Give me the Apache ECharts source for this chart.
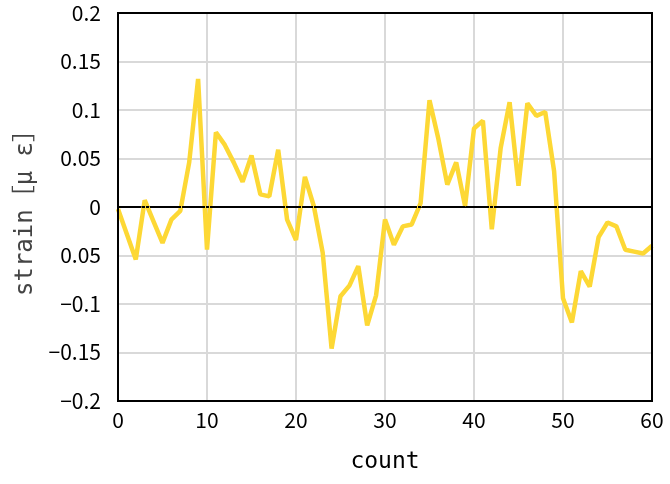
<!DOCTYPE html>
<html>
<head>
<meta charset="utf-8">
<script src="https://cdn.jsdelivr.net/npm/echarts@6/dist/echarts.min.js"></script>
<style>html,body{margin:0;padding:0;background:#fff}#c{width:670px;height:484px}</style>
</head>
<body>
<div id="c"></div>
<script>
var counts = [];
for (var k = 0; k <= 60; k++) counts.push(k);
var strain = [-0.002,-0.028,-0.054,0.007,-0.015,-0.037,-0.013,-0.004,0.046,0.132,
  -0.044,0.077,0.064,0.046,0.026,0.053,0.013,0.011,0.059,-0.013,
  -0.034,0.031,0.001,-0.047,-0.146,-0.092,-0.081,-0.061,-0.122,-0.091,
  -0.013,-0.039,-0.020,-0.018,0.004,0.110,0.070,0.023,0.046,0.001,
  0.081,0.089,-0.023,0.061,0.108,0.022,0.107,0.094,0.098,0.037,
  -0.094,-0.119,-0.066,-0.082,-0.031,-0.016,-0.020,-0.044,-0.046,-0.048,
  -0.040];
var xTickLabels = ['0','10','20','30','40','50','60'];
var yTickLabels = ['\u22120.2','\u22120.15','\u22120.1','0.05','0','0.05','0.1','0.15','0.2'];

var pts = counts.map(function(c, i){ return [c, strain[i]]; });
var chart = echarts.init(document.getElementById('c'));
var labelFont = '"Noto Sans CJK JP", "Noto Sans", sans-serif';
chart.setOption({
  animation: false,
  grid: {left: 118, right: 18, top: 13, bottom: 83, show: true, borderColor: '#000', borderWidth: 2, z: 3},
  xAxis: {
    type: 'value', min: 0, max: 60, interval: 10,
    name: 'count', nameLocation: 'middle', nameGap: 50,
    nameTextStyle: {fontFamily: '"DejaVu Sans Mono", monospace', fontSize: 23, color: '#000'},
    axisLine: {show: true, lineStyle: {color: '#000', width: 2}},
    axisTick: {show: false},
    axisLabel: {margin: 9, fontFamily: labelFont, fontSize: 21, color: '#000',
      formatter: function(v, i){ return xTickLabels[i]; }},
    splitLine: {show: true, lineStyle: {color: '#d9d9d9', width: 2}}
  },
  yAxis: {
    type: 'value', min: -0.2, max: 0.2, interval: 0.05,
    name: 'strain\uFF3B\u03BC \u03B5\uFF3D', nameLocation: 'middle', nameGap: 76, nameRotate: 90,
    nameTextStyle: {fontFamily: '"DejaVu Sans Mono", "Noto Sans CJK JP", monospace', fontSize: 24, color: '#444'},
    axisLine: {show: true, lineStyle: {color: '#000', width: 2}},
    axisTick: {show: false},
    axisLabel: {margin: 17, fontFamily: labelFont, fontSize: 21, color: '#000',
      formatter: function(v, i){ return yTickLabels[i]; }},
    splitLine: {show: true, lineStyle: {color: '#d9d9d9', width: 2}}
  },
  series: [{
    type: 'line', data: pts, symbol: 'none',
    lineStyle: {color: '#FDD835', width: 4.5}, z: 2,
    markLine: {
      silent: true, symbol: 'none', label: {show: false},
      lineStyle: {color: '#000', type: [3, 1], width: 2},
      data: [{yAxis: 0}], z: 5
    }
  }]
});
</script>
</body>
</html>
